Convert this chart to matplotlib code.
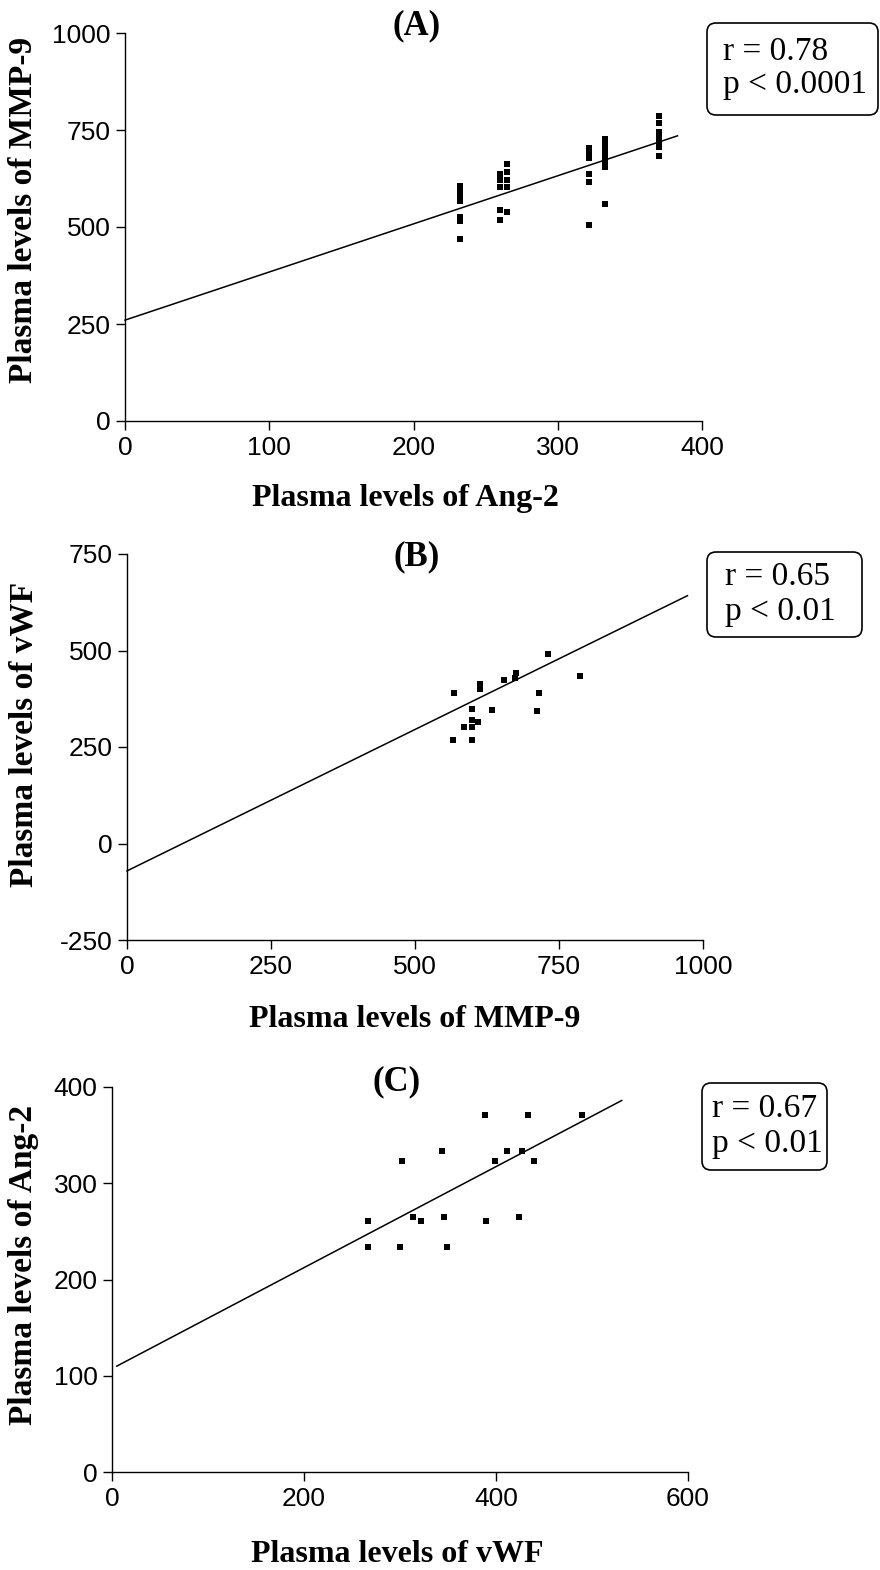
import matplotlib
matplotlib.use("Agg")
import matplotlib.pyplot as plt
import matplotlib.transforms as mtransforms
from matplotlib.patches import FancyBboxPatch

plt.rcParams['font.family'] = 'Liberation Sans'
plt.rcParams['axes.unicode_minus'] = False

# (A) Ang-2 vs MMP-9
ang2_a = [232] * 7 + [260] * 5 + [265] * 5 + [322] * 6 + [333] * 7 + [370] * 7
mmp9_a = [605, 590, 578, 568, 525, 515, 470,
          636, 622, 604, 543, 517,
          663, 642, 620, 603, 538,
          704, 690, 678, 637, 616, 504,
          728, 712, 697, 683, 668, 655, 558,
          786, 768, 745, 732, 718, 705, 682]
fit_a_x = [0, 383]
fit_a_y = [260, 735]

# (B) MMP-9 vs vWF
mmp9_b = [568, 566, 585, 599, 599, 599, 599, 610, 612, 612, 633, 654, 673, 675, 711, 716, 731, 787]
vwf_b = [390, 267, 301, 349, 321, 301, 267, 314, 412, 399, 346, 424, 428, 441, 343, 390, 491, 433]
fit_b_x = [0, 973]
fit_b_y = [-71, 642]

# (C) vWF vs Ang-2
vwf_c = [267, 267, 300, 302, 314, 322, 344, 346, 349, 389, 390, 399, 411, 424, 427, 433, 440, 490]
ang2_c = [261, 234, 234, 323, 265, 261, 334, 265, 234, 371, 261, 323, 334, 265, 334, 371, 323, 371]
fit_c_x = [5, 531]
fit_c_y = [110, 386]

ticks_a = ([0, 100, 200, 300, 400], [0, 250, 500, 750, 1000])
ticks_b = ([0, 250, 500, 750, 1000], [-250, 0, 250, 500, 750])
ticks_c = ([0, 200, 400, 600], [0, 100, 200, 300, 400])

W, H = 880, 1570
fig = plt.figure(figsize=(W / 100, H / 100), dpi=100)
# pixel coordinates, origin top-left
px = mtransforms.Affine2D().scale(1 / W, -1 / H).translate(0, 1) + fig.transFigure

SERIF = 'Liberation Serif'


def panel(box, x, y, fx, fy, ticks, xlabel, ylabel, xlab_pos, ylab_pos,
          title, title_pos, stat_box, stat_lines):
    l, r, t, b = box
    ax = fig.add_axes([l / W, 1 - b / H, (r - l) / W, (b - t) / H])
    ax.plot(x, y, 's', ms=5, color='black', mew=0, clip_on=False)
    ax.plot(fx, fy, '-', color='black', lw=1.1, clip_on=False)
    ax.set_xlim(ticks[0][0], ticks[0][-1])
    ax.set_ylim(ticks[1][0], ticks[1][-1])
    ax.set_xticks(ticks[0])
    ax.set_yticks(ticks[1])
    for s in ['top', 'right']:
        ax.spines[s].set_visible(False)
    for s in ['left', 'bottom']:
        ax.spines[s].set_linewidth(1.0)
    ax.tick_params(direction='out', length=6.5, width=1.0, labelsize=19, pad=4)

    ax.set_xlabel(xlabel, fontfamily=SERIF, fontweight='bold', fontsize=23)
    ax.xaxis.set_label_coords(*xlab_pos, transform=px)
    ax.xaxis.label.set_va('baseline')
    ax.set_ylabel(ylabel, fontfamily=SERIF, fontweight='bold', fontsize=24)
    ax.yaxis.set_label_coords(*ylab_pos, transform=px)
    ax.yaxis.label.set_va('center')

    fig.text(*title_pos, title, transform=px, ha='center', va='center',
             fontfamily=SERIF, fontweight='bold', fontsize=25)

    bx, by, bw, bh = stat_box
    fig.add_artist(FancyBboxPatch((bx, by), bw, bh, boxstyle='round,pad=0,rounding_size=9',
                                  transform=px, fill=False, ec='black', lw=1.2))
    for (tx, ty, s) in stat_lines:
        fig.text(tx, ty, s, transform=px, ha='left', va='baseline',
                 fontfamily=SERIF, fontsize=24)
    return ax


panel((125, 702, 33, 421), ang2_a, mmp9_a, fit_a_x, fit_a_y, ticks_a,
      'Plasma levels of Ang-2', 'Plasma levels of MMP-9', (405, 506), (24, 210),
      '(A)', (417, 26), (707, 23, 171, 92),
      [(723, 60, 'r = 0.78'), (723, 93, 'p < 0.0001')])

panel((127, 703, 554, 940), mmp9_b, vwf_b, fit_b_x, fit_b_y, ticks_b,
      'Plasma levels of MMP-9', 'Plasma levels of vWF', (415, 1027), (24, 734),
      '(B)', (417, 557), (707, 552, 155, 85),
      [(725, 585, 'r = 0.65'), (725, 620, 'p < 0.01')])

panel((112, 688, 1087, 1472), vwf_c, ang2_c, fit_c_x, fit_c_y, ticks_c,
      'Plasma levels of vWF', 'Plasma levels of Ang-2', (397, 1562), (24, 1265),
      '(C)', (397, 1082), (702, 1083, 125, 87),
      [(712, 1117, 'r = 0.67'), (712, 1152, 'p < 0.01')])

fig.savefig('out.png', dpi=100)
